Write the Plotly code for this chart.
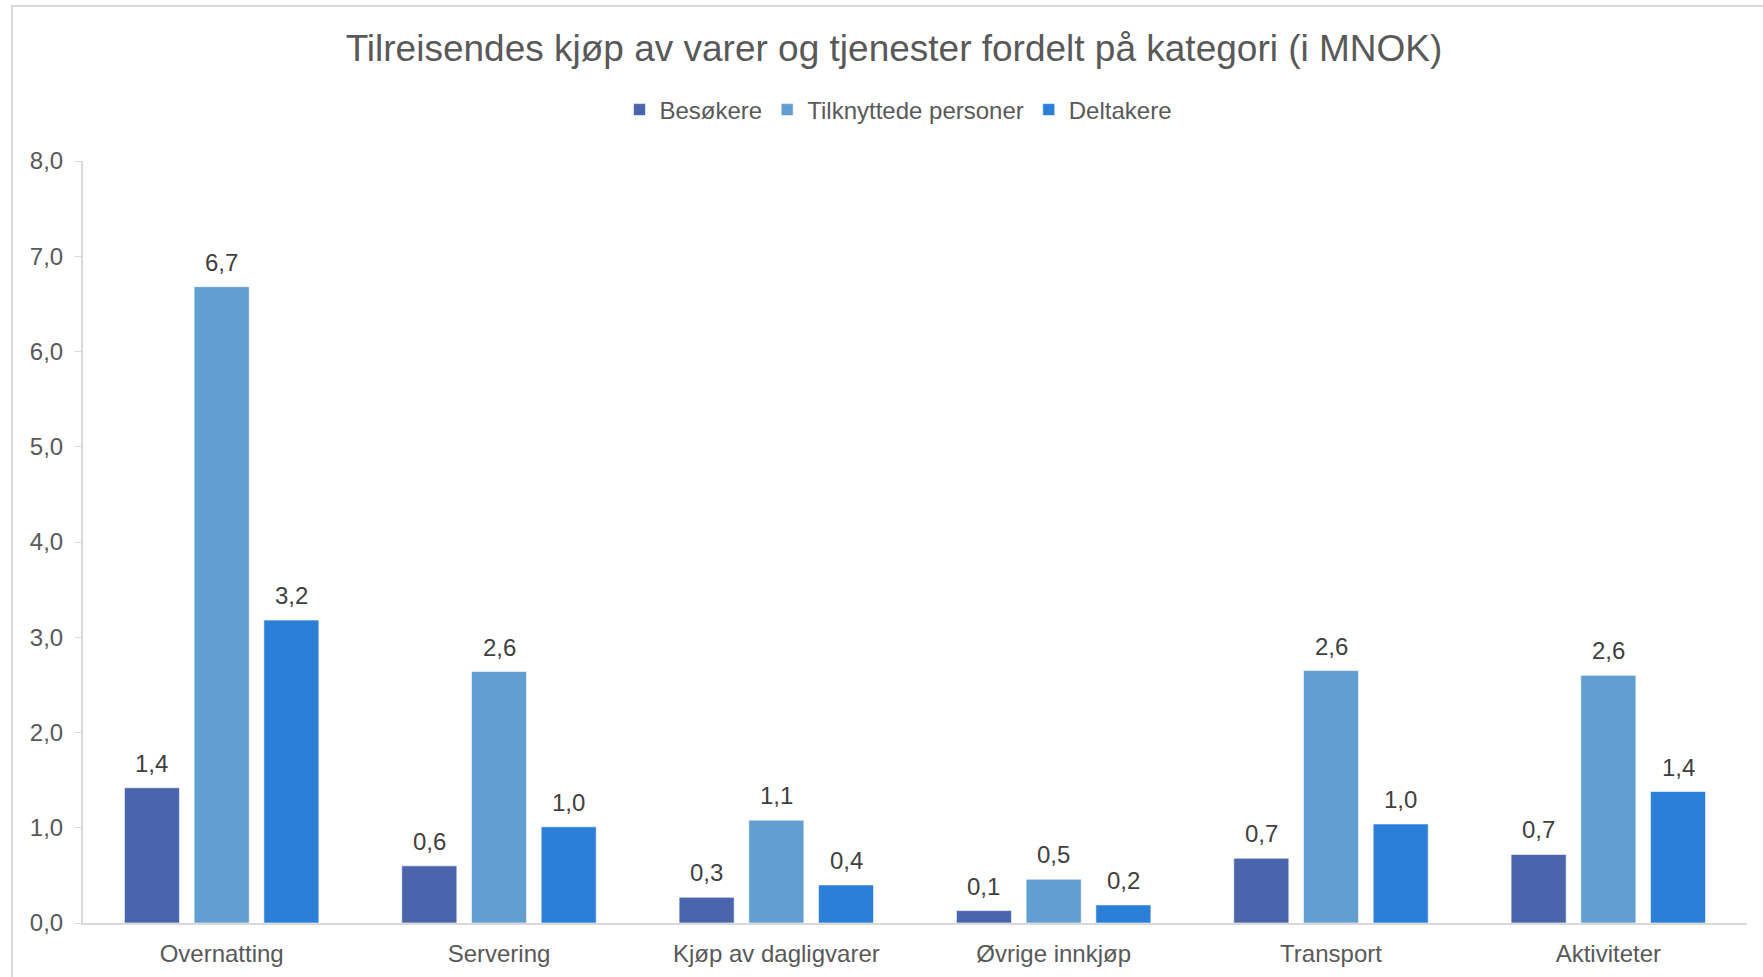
import plotly.graph_objects as go

categories = ["Overnatting", "Servering", "Kjøp av dagligvarer", "Øvrige innkjøp", "Transport", "Aktiviteter"]
besokere = [1.42, 0.60, 0.27, 0.13, 0.68, 0.72]
tilknyttede = [6.68, 2.64, 1.08, 0.46, 2.65, 2.60]
deltakere = [3.18, 1.01, 0.40, 0.19, 1.04, 1.38]

series = [
    ("Besøkere", besokere, "#4A65AB"),
    ("Tilknyttede personer", tilknyttede, "#629ED1"),
    ("Deltakere", deltakere, "#2B7FD7"),
]

W, H = 1763, 977
ML, MR, MT, MB = 83, 16, 161, 54
BARGAP, BARGROUPGAP = 0.246, 0.21
FONT = "Liberation Sans, Arial, sans-serif"

fig = go.Figure()
for name, vals, col in series:
    fig.add_trace(go.Bar(
        name=name, x=categories, y=vals,
        marker=dict(color=col, line=dict(color="rgba(255,255,255,0.6)", width=1)),
    ))

# value labels above bars
plot_w = W - ML - MR
plot_h = H - MT - MB
cat_px = plot_w / len(categories)
slot_px = cat_px * (1 - BARGAP) / len(series)
annotations = []
for i, (name, vals, col) in enumerate(series):
    for c, v in zip(categories, vals):
        annotations.append(dict(
            x=c, y=v, xref="x", yref="y",
            text=f"{v:.1f}".replace(".", ","),
            showarrow=False, yanchor="bottom",
            xshift=(i - 1) * slot_px, yshift=9,
            font=dict(family=FONT, size=24, color="#404040"),
        ))

fig.update_layout(
    width=W, height=H,
    margin=dict(l=ML, r=MR, t=MT, b=MB, autoexpand=False),
    paper_bgcolor="white", plot_bgcolor="white",
    barmode="group", bargap=BARGAP, bargroupgap=BARGROUPGAP,
    separators=", ",
    font=dict(family=FONT, color="#595959", size=24),
    title=dict(
        text="Tilreisendes kjøp av varer og tjenester fordelt på kategori (i MNOK)",
        x=894 / W, xanchor="center", xref="container",
        y=1 - 48 / H, yanchor="middle", yref="container",
        font=dict(family=FONT, size=37, color="#595959"),
    ),
    legend=dict(
        orientation="h", x=898 / W, xanchor="center", xref="container",
        y=1 - 110 / H, yanchor="middle", yref="container",
        font=dict(family=FONT, size=24, color="#595959"),
        itemwidth=30, traceorder="normal",
    ),
    annotations=annotations,
    xaxis=dict(
        showline=True, linecolor="#D9D9D9", linewidth=2, automargin=False,
        ticks="", showgrid=False, ticklabelstandoff=8,
        tickfont=dict(family=FONT, size=24, color="#595959"),
    ),
    yaxis=dict(
        range=[0, 8], dtick=1, tickformat=".1f", automargin=False,
        showline=True, linecolor="#D9D9D9", linewidth=2,
        ticks="outside", ticklen=6, tickcolor="#D9D9D9",
        showgrid=False, zeroline=False, ticklabelstandoff=7,
        tickfont=dict(family=FONT, size=24, color="#595959"),
    ),
    shapes=[dict(
        type="rect", xref="paper", yref="paper",
        x0=(12 - ML) / plot_w, x1=(W + 10 - ML) / plot_w,
        y0=-(MB + 10) / plot_h, y1=((H - MB) - 6) / plot_h,
        line=dict(color="#D9D9D9", width=2), fillcolor="rgba(0,0,0,0)", layer="below",
    )],
)

fig.write_html(
    "out.html",
    config={"displayModeBar": False},
    post_script="document.body.style.margin='0';document.body.style.overflow='hidden';",
)
